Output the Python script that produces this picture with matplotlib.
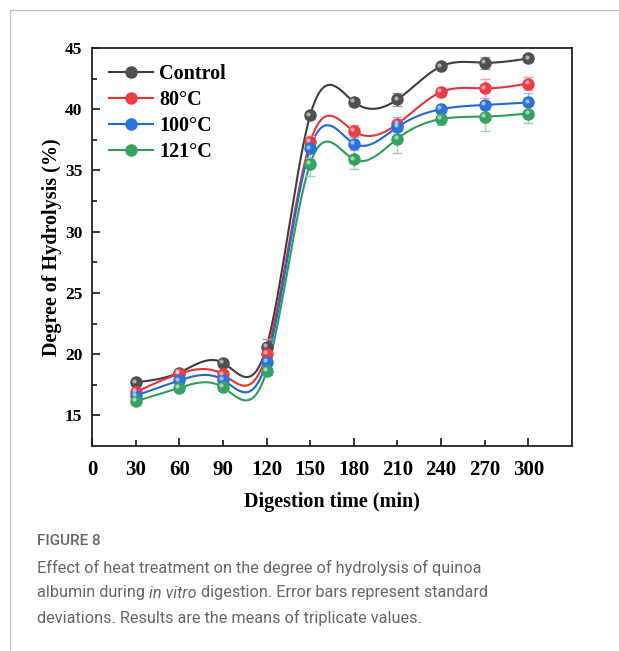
import numpy as np
import matplotlib
matplotlib.use("Agg")
import matplotlib.pyplot as plt
from matplotlib.lines import Line2D
from matplotlib.ticker import FixedLocator, FixedFormatter
import matplotlib.transforms as mtransforms
from matplotlib import font_manager

# ---------------- data ----------------
time = [30, 60, 90, 120, 150, 180, 210, 240, 270, 300]
labels = ["Control", "80\u00b0C", "100\u00b0C", "121\u00b0C"]
control = [17.7, 18.5, 19.3, 20.6, 39.5, 40.6, 40.8, 43.5, 43.8, 44.15]
t80 = [16.9, 18.4, 18.35, 20.0, 37.3, 38.2, 38.8, 41.4, 41.7, 42.1]
t100 = [16.6, 17.85, 17.9, 19.4, 36.8, 37.2, 38.55, 40.0, 40.35, 40.55]
t121 = [16.15, 17.25, 17.3, 18.6, 35.55, 35.9, 37.6, 39.2, 39.4, 39.65]
err_control = [0.2, 0.2, 0.2, 0.6, 0.3, 0.3, 0.5, 0.2, 0.5, 0.3]
err_80 = [0.3, 0.3, 0.3, 0.5, 0.5, 0.5, 0.3, 0.3, 0.8, 0.5]
err_100 = [0.3, 0.3, 0.3, 0.4, 0.8, 0.5, 0.8, 0.3, 0.3, 0.8]
err_121 = [0.3, 0.2, 0.3, 0.3, 1.0, 0.8, 1.2, 0.5, 1.2, 0.8]
x_ticks_major = [0, 60, 120, 180, 240, 300]
x_ticks_minor = [30, 90, 150, 210, 270]
y_ticks = [15, 20, 25, 30, 35, 40, 45]

series = [control, t80, t100, t121]
errors = [err_control, err_80, err_100, err_121]
line_colors = ["#3d3d3d", "#e8333c", "#1f6ad4", "#2b9e58"]
marker_colors = ["#505050", "#ef3c45", "#2a72dc", "#35a262"]
err_colors = ["#9a9a9a", "#f3a0a4", "#9dbbe8", "#9fd3b3"]


def natural_spline(x, y, xs):
    x = np.asarray(x, float)
    y = np.asarray(y, float)
    n = len(x)
    h = np.diff(x)
    A = np.zeros((n, n))
    r = np.zeros(n)
    A[0, 0] = A[-1, -1] = 1.0
    for i in range(1, n - 1):
        A[i, i - 1] = h[i - 1]
        A[i, i] = 2 * (h[i - 1] + h[i])
        A[i, i + 1] = h[i]
        r[i] = 3 * ((y[i + 1] - y[i]) / h[i] - (y[i] - y[i - 1]) / h[i - 1])
    c = np.linalg.solve(A, r)
    b = (y[1:] - y[:-1]) / h - h * (2 * c[:-1] + c[1:]) / 3
    d = (c[1:] - c[:-1]) / (3 * h)
    idx = np.clip(np.searchsorted(x, xs) - 1, 0, n - 2)
    dx = xs - x[idx]
    return y[idx] + b[idx] * dx + c[idx] * dx ** 2 + d[idx] * dx ** 3


def pick_font(cands):
    for c in cands:
        try:
            font_manager.findfont(font_manager.FontProperties(family=c), fallback_to_default=False)
            return c
        except Exception:
            pass
    return "DejaVu Sans"


W, H = 619, 651
fig = plt.figure(figsize=(W / 100, H / 100), dpi=100)
fig.patch.set_facecolor("white")

# page frame lines
fig.add_artist(Line2D([10 / W, 1.0], [1 - 10 / H, 1 - 10 / H], color="#c4c4c4", lw=1.0,
                      transform=fig.transFigure))
fig.add_artist(Line2D([10 / W, 10 / W], [0.0, 1 - 10 / H], color="#c4c4c4", lw=1.0,
                      transform=fig.transFigure))

ax = fig.add_axes([92 / W, 1 - 446 / H, (572 - 92) / W, (446 - 48) / H])
ax.set_xlim(0, 330)
ax.set_ylim(12.5, 45)

serif = "Liberation Serif"
xs = np.linspace(time[0], time[-1], 600)
hl_offset = mtransforms.offset_copy(ax.transData, fig=fig, x=-1.3, y=1.3, units="points")

for vals, errs, lc, mc, ec, lab in zip(series, errors, line_colors, marker_colors, err_colors, labels):
    ax.plot(xs, natural_spline(time, vals, xs), color=lc, lw=1.5, zorder=2)
    ax.errorbar(time, vals, yerr=errs, fmt="none", ecolor=ec, elinewidth=1.0,
                capsize=3.5, capthick=1.0, zorder=3)
    ax.plot(time, vals, "o", color=mc, markersize=9, markeredgewidth=0, zorder=4)
    ax.plot(time, vals, "o", color="white", alpha=0.55, markersize=3,
            markeredgewidth=0, zorder=5, transform=hl_offset)

# legend
handles = [Line2D([0], [0], color=lc, lw=1.5, marker="o", markersize=9,
                  markerfacecolor=mc, markeredgewidth=0)
           for lc, mc in zip(line_colors, marker_colors)]
leg = ax.legend(handles, labels, loc="upper left", bbox_to_anchor=(0.01, 0.99),
                frameon=False, handlelength=2.2, handletextpad=0.3, labelspacing=0.29,
                borderaxespad=0.2, prop={"family": serif, "weight": "bold", "size": 14.5})

# ticks
ax.xaxis.set_major_locator(FixedLocator(x_ticks_major))
ax.xaxis.set_major_formatter(FixedFormatter([str(v) for v in x_ticks_major]))
ax.xaxis.set_minor_locator(FixedLocator(x_ticks_minor))
ax.xaxis.set_minor_formatter(FixedFormatter([str(v) for v in x_ticks_minor]))
ax.yaxis.set_major_locator(FixedLocator(y_ticks))
ax.yaxis.set_major_formatter(FixedFormatter([str(v) for v in y_ticks]))
ax.yaxis.set_minor_locator(FixedLocator([v + 2.5 for v in y_ticks[:-1]]))

ax.tick_params(axis="x", which="major", direction="in", length=6, width=1.1, pad=10)
ax.tick_params(axis="x", which="minor", direction="in", length=4, width=1.1, pad=10)
ax.tick_params(axis="y", which="major", direction="in", length=6, width=1.1, pad=7)
ax.tick_params(axis="y", which="minor", direction="in", length=3.5, width=1.1)
for lbl in ax.get_xticklabels(which="both"):
    lbl.set_fontfamily(serif)
    lbl.set_fontweight("bold")
    lbl.set_fontsize(15)
for lbl in ax.get_yticklabels():
    lbl.set_fontfamily(serif)
    lbl.set_fontweight("bold")
    lbl.set_fontsize(12.5)

for sp in ax.spines.values():
    sp.set_linewidth(1.3)
    sp.set_color("#222222")

ax.set_xlabel("Digestion time (min)", family=serif, weight="bold", fontsize=14.5, labelpad=9)
ax.set_ylabel("Degree of Hydrolysis (%)", family=serif, weight="bold", fontsize=14.5, labelpad=2)

# caption
cap_color = "#666666"
sans = pick_font(["Roboto", "Open Sans"])

fig.canvas.draw()
renderer = fig.canvas.get_renderer()


def fitted_size(txt, target_px, **kw):
    probe = fig.text(0, 0, txt, family=sans, fontsize=12, **kw)
    w = probe.get_window_extent(renderer).width
    probe.remove()
    return 12 * target_px / w


fig.text(37 / W, 1 - 541 / H, "FIGURE 8", family=sans, fontsize=11, weight="medium",
         color=cap_color, va="center", ha="left")

line1 = "Effect of heat treatment on the degree of hydrolysis of quinoa"
cap_size = fitted_size(line1, 443)

rows = [
    [(line1, "normal")],
    [("albumin during ", "normal"), ("in vitro", "italic"),
     (" digestion. Error bars represent standard", "normal")],
    [("deviations. Results are the means of triplicate values.", "normal")],
]
row_y = [568, 593, 618]
for parts, yy in zip(rows, row_y):
    xpix = 37.0
    for txt, style in parts:
        t = fig.text(xpix / W, 1 - yy / H, txt, family=sans, style=style, fontsize=cap_size,
                     color=cap_color, va="center", ha="left")
        xpix += t.get_window_extent(renderer).width

fig.savefig("out.png", dpi=100, facecolor="white")
